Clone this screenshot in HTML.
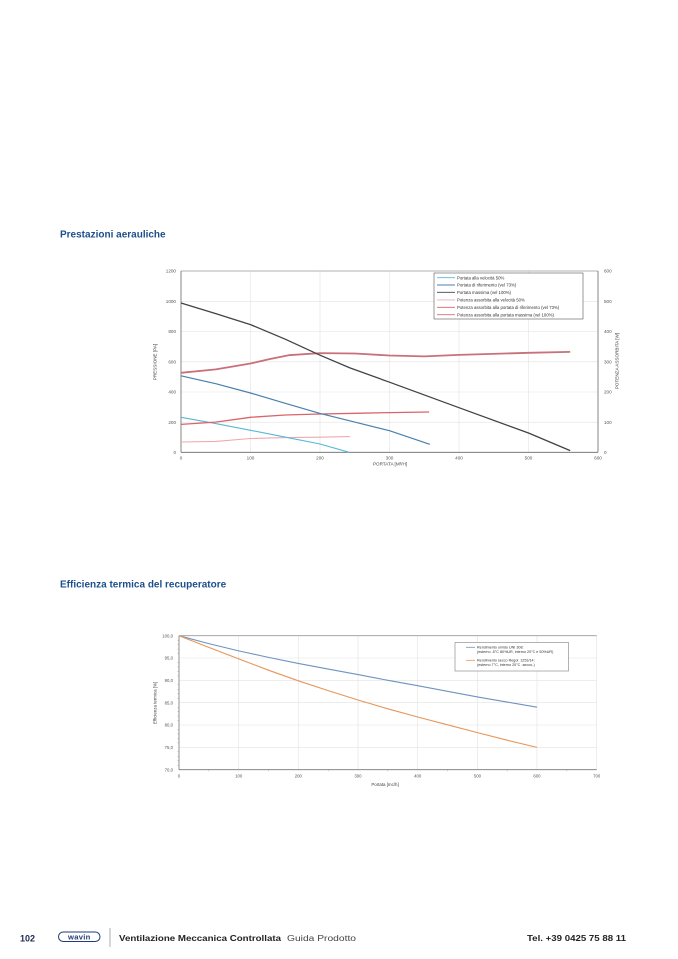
<!DOCTYPE html>
<html>
<head>
<meta charset="utf-8">
<style>
html,body{margin:0;padding:0;background:#fff;}
body{width:678px;height:959px;overflow:hidden;}
svg{display:block;}
text{font-family:"Liberation Sans",sans-serif;}
</style>
</head>
<body>
<svg width="678" height="959" viewBox="0 0 678 959" xmlns="http://www.w3.org/2000/svg">
<rect width="678" height="959" fill="#fff"/>

<!-- Titles -->
<text x="60" y="237.5" font-size="10" font-weight="bold" fill="#1d4f8c">Prestazioni aerauliche</text>
<text x="60" y="587.5" font-size="10" font-weight="bold" fill="#1d4f8c">Efficienza termica del recuperatore</text>

<!-- ============ CHART 1 ============ -->
<g>
  <!-- grid -->
  <g stroke="#e2e2e2" stroke-width="0.6">
    <line x1="250.5" y1="271" x2="250.5" y2="452.3"/>
    <line x1="320" y1="271" x2="320" y2="452.3"/>
    <line x1="389.5" y1="271" x2="389.5" y2="452.3"/>
    <line x1="459" y1="271" x2="459" y2="452.3"/>
    <line x1="528.5" y1="271" x2="528.5" y2="452.3"/>
    <line x1="181" y1="301.3" x2="598" y2="301.3"/>
    <line x1="181" y1="331.5" x2="598" y2="331.5"/>
    <line x1="181" y1="361.8" x2="598" y2="361.8"/>
    <line x1="181" y1="392" x2="598" y2="392"/>
    <line x1="181" y1="422.2" x2="598" y2="422.2"/>
  </g>
  <line x1="181" y1="271" x2="598" y2="271" stroke="#999" stroke-width="0.8"/>
  <line x1="181" y1="271" x2="181" y2="452.3" stroke="#666" stroke-width="0.8"/>
  <line x1="598" y1="271" x2="598" y2="452.3" stroke="#666" stroke-width="0.8"/>
  <line x1="181" y1="452.3" x2="598" y2="452.3" stroke="#666" stroke-width="0.8"/>

  <!-- left tick labels -->
  <g font-size="4.6" fill="#555" text-anchor="end">
    <text x="176" y="272.6">1200</text>
    <text x="176" y="302.9">1000</text>
    <text x="176" y="333.1">800</text>
    <text x="176" y="363.4">600</text>
    <text x="176" y="393.6">400</text>
    <text x="176" y="423.8">200</text>
    <text x="176" y="454">0</text>
  </g>
  <!-- right tick labels -->
  <g font-size="4.6" fill="#555" text-anchor="start">
    <text x="604" y="272.6">600</text>
    <text x="604" y="302.9">500</text>
    <text x="604" y="333.1">400</text>
    <text x="604" y="363.4">300</text>
    <text x="604" y="393.6">200</text>
    <text x="604" y="423.8">100</text>
    <text x="604" y="454">0</text>
  </g>
  <!-- x tick labels -->
  <g font-size="4.6" fill="#555" text-anchor="middle">
    <text x="181" y="459.5">0</text>
    <text x="250.5" y="459.5">100</text>
    <text x="320" y="459.5">200</text>
    <text x="389.5" y="459.5">300</text>
    <text x="459" y="459.5">400</text>
    <text x="528.5" y="459.5">500</text>
    <text x="598" y="459.5">600</text>
  </g>
  <text x="390" y="465.5" font-size="4.6" fill="#444" text-anchor="middle">PORTATA [M³/H]</text>
  <text transform="translate(156.5,362) rotate(-90)" font-size="4.6" fill="#444" text-anchor="middle">PRESSIONE [PA]</text>
  <text transform="translate(618.5,361) rotate(-90)" font-size="4.6" fill="#444" text-anchor="middle">POTENZA ASSORBITA [W]</text>

  <!-- series -->
  <polyline fill="none" stroke="#efaaae" stroke-width="1.1" stroke-linejoin="round"
    points="181,442.0 215.75,441.4 250.5,438.5 285,437.6 320,437.2 349.9,436.6"/>
  <polyline fill="none" stroke="#58b7d6" stroke-width="1.1" stroke-linejoin="round"
    points="181,417.3 215.75,423.6 250.5,430.3 285,437.1 320,444.0 349.2,452.3"/>
  <polyline fill="none" stroke="#d9646a" stroke-width="1.3" stroke-linejoin="round"
    points="181,424.4 215.75,422.1 250.5,417.3 285.25,415.0 320,414.0 354.75,413.3 389.5,412.6 429.1,412.0"/>
  <polyline fill="none" stroke="#4a80ad" stroke-width="1.2" stroke-linejoin="round"
    points="181,375.8 215.75,383.7 250.5,393.0 285.25,403.3 320,413.4 354.75,422.1 389.5,430.7 429.8,444.3"/>
  <polyline fill="none" stroke="#c9707a" stroke-width="1.8" stroke-linejoin="round"
    points="181,372.8 215.75,369.4 250.5,363.5 270,359 288.7,355.2 320,353.1 354.75,353.5 389.5,355.5 424.25,356.4 459,354.9 528.5,352.8 570.2,351.9"/>
  <polyline fill="none" stroke="#3f4448" stroke-width="1.3" stroke-linejoin="round"
    points="181,303.0 215.75,313.6 250.5,324.6 285.25,339.2 320,355.2 349.9,367.9 389.5,382.2 459,407.7 528.5,433.0 570.2,450.6"/>

  <!-- legend -->
  <rect x="434" y="273" width="149" height="46" fill="#fff" stroke="#555" stroke-width="0.6"/>
  <g stroke-width="0.9">
    <line x1="437" y1="277.7" x2="455" y2="277.7" stroke="#58b7d6"/>
    <line x1="437" y1="285" x2="455" y2="285" stroke="#4a80ad"/>
    <line x1="437" y1="292.3" x2="455" y2="292.3" stroke="#3f4448"/>
    <line x1="437" y1="299.9" x2="455" y2="299.9" stroke="#efaaae"/>
    <line x1="437" y1="307.3" x2="455" y2="307.3" stroke="#d9646a"/>
    <line x1="437" y1="314.7" x2="455" y2="314.7" stroke="#c9707a"/>
  </g>
  <g font-size="4.3" fill="#333">
    <text x="457" y="279.3">Portata alla velocità 50%</text>
    <text x="457" y="286.6">Portata di riferimento (vel 73%)</text>
    <text x="457" y="293.9">Portata massima (vel 100%)</text>
    <text x="457" y="301.5">Potenza assorbita alla velocità 50%</text>
    <text x="457" y="308.9">Potenza assorbita alla portata di riferimento (vel 73%)</text>
    <text x="457" y="316.3">Potenza assorbita alla portata massima (vel 100%)</text>
  </g>
</g>

<!-- ============ CHART 2 ============ -->
<g>
  <g stroke="#e2e2e2" stroke-width="0.6">
    <line x1="238.7" y1="635.7" x2="238.7" y2="769.7"/>
    <line x1="298.3" y1="635.7" x2="298.3" y2="769.7"/>
    <line x1="358" y1="635.7" x2="358" y2="769.7"/>
    <line x1="417.7" y1="635.7" x2="417.7" y2="769.7"/>
    <line x1="477.4" y1="635.7" x2="477.4" y2="769.7"/>
    <line x1="537" y1="635.7" x2="537" y2="769.7"/>
    <line x1="596.7" y1="635.7" x2="596.7" y2="769.7"/>
    <line x1="179" y1="658" x2="596.7" y2="658"/>
    <line x1="179" y1="680.3" x2="596.7" y2="680.3"/>
    <line x1="179" y1="702.7" x2="596.7" y2="702.7"/>
    <line x1="179" y1="725" x2="596.7" y2="725"/>
    <line x1="179" y1="747.3" x2="596.7" y2="747.3"/>
  </g>
  <line x1="179" y1="635.7" x2="596.7" y2="635.7" stroke="#999" stroke-width="0.8"/>
  <line x1="179" y1="635.7" x2="179" y2="769.7" stroke="#777" stroke-width="0.8"/>
  <line x1="179" y1="769.7" x2="596.7" y2="769.7" stroke="#777" stroke-width="0.8"/>
  <!-- minor ticks left -->
  <g stroke="#888" stroke-width="0.4" id="mt">
    <line x1="177.5" y1="640.2" x2="179" y2="640.2"/><line x1="177.5" y1="644.6" x2="179" y2="644.6"/>
    <line x1="177.5" y1="649.1" x2="179" y2="649.1"/><line x1="177.5" y1="653.6" x2="179" y2="653.6"/>
    <line x1="177.5" y1="662.5" x2="179" y2="662.5"/><line x1="177.5" y1="666.9" x2="179" y2="666.9"/>
    <line x1="177.5" y1="671.4" x2="179" y2="671.4"/><line x1="177.5" y1="675.9" x2="179" y2="675.9"/>
    <line x1="177.5" y1="684.8" x2="179" y2="684.8"/><line x1="177.5" y1="689.3" x2="179" y2="689.3"/>
    <line x1="177.5" y1="693.7" x2="179" y2="693.7"/><line x1="177.5" y1="698.2" x2="179" y2="698.2"/>
    <line x1="177.5" y1="707.2" x2="179" y2="707.2"/><line x1="177.5" y1="711.6" x2="179" y2="711.6"/>
    <line x1="177.5" y1="716.1" x2="179" y2="716.1"/><line x1="177.5" y1="720.5" x2="179" y2="720.5"/>
    <line x1="177.5" y1="729.5" x2="179" y2="729.5"/><line x1="177.5" y1="733.9" x2="179" y2="733.9"/>
    <line x1="177.5" y1="738.4" x2="179" y2="738.4"/><line x1="177.5" y1="742.9" x2="179" y2="742.9"/>
    <line x1="177.5" y1="751.8" x2="179" y2="751.8"/><line x1="177.5" y1="756.3" x2="179" y2="756.3"/>
    <line x1="177.5" y1="760.7" x2="179" y2="760.7"/><line x1="177.5" y1="765.2" x2="179" y2="765.2"/>
    <line x1="208.8" y1="769.7" x2="208.8" y2="771.2"/><line x1="268.5" y1="769.7" x2="268.5" y2="771.2"/>
    <line x1="328.2" y1="769.7" x2="328.2" y2="771.2"/><line x1="387.8" y1="769.7" x2="387.8" y2="771.2"/>
    <line x1="447.5" y1="769.7" x2="447.5" y2="771.2"/><line x1="507.2" y1="769.7" x2="507.2" y2="771.2"/>
    <line x1="566.8" y1="769.7" x2="566.8" y2="771.2"/>
  </g>
  <g font-size="4.3" fill="#555" text-anchor="end">
    <text x="173" y="637.3">100,0</text>
    <text x="173" y="659.6">95,0</text>
    <text x="173" y="681.9">90,0</text>
    <text x="173" y="704.3">85,0</text>
    <text x="173" y="726.6">80,0</text>
    <text x="173" y="748.9">75,0</text>
    <text x="173" y="771.3">70,0</text>
  </g>
  <g font-size="4.3" fill="#555" text-anchor="middle">
    <text x="179" y="777.6">0</text>
    <text x="238.7" y="777.6">100</text>
    <text x="298.3" y="777.6">200</text>
    <text x="358" y="777.6">300</text>
    <text x="417.7" y="777.6">400</text>
    <text x="477.4" y="777.6">500</text>
    <text x="537" y="777.6">600</text>
    <text x="596.7" y="777.6">700</text>
  </g>
  <text x="385" y="786" font-size="4.4" fill="#444" text-anchor="middle">Portata [mc/h]</text>
  <text transform="translate(156.5,703) rotate(-90)" font-size="4.4" fill="#444" text-anchor="middle">Efficienza termica [%]</text>

  <polyline fill="none" stroke="#6f93bf" stroke-width="1.1" stroke-linejoin="round"
    points="179,635.7 208.8,643.6 238.7,650.9 268.5,657.4 298.3,663.4 328.2,669.1 358,674.6 387.8,680.3 417.7,685.7 447.5,691.3 477.4,696.9 507.2,702.1 537,707.2"/>
  <polyline fill="none" stroke="#e8955a" stroke-width="1.1" stroke-linejoin="round"
    points="179,635.7 208.8,647.4 238.7,658.9 268.5,670.2 298.3,680.8 328.2,690.6 358,700.0 387.8,708.8 417.7,717.0 447.5,724.8 477.4,732.6 507.2,740.2 537,747.4"/>

  <rect x="455" y="642.5" width="113.5" height="28.5" fill="#fff" stroke="#666" stroke-width="0.5"/>
  <line x1="466" y1="647.3" x2="475" y2="647.3" stroke="#6f93bf" stroke-width="0.8"/>
  <line x1="466" y1="660.3" x2="475" y2="660.3" stroke="#e8955a" stroke-width="0.8"/>
  <g font-size="3.7" fill="#333">
    <text x="477" y="648.6">Rendimento umido UNI 308:</text>
    <text x="477" y="653">(esterno -5°C 80%UR, interno 20°C e 50%UR)</text>
    <text x="477" y="661.6">Rendimento secco Regol. 1253/14:</text>
    <text x="477" y="666">(esterno 7°C, interno 20°C -secco-)</text>
  </g>
</g>

<!-- ============ FOOTER ============ -->
<text x="20" y="941.5" font-size="9" font-weight="bold" fill="#1c2b4f">102</text>
<rect x="58.5" y="932" width="41.5" height="9.5" rx="4.75" ry="4.75" fill="none" stroke="#1f3b73" stroke-width="1"/>
<text x="79.3" y="939.6" font-size="7.6" font-weight="bold" fill="#1f3b73" text-anchor="middle" letter-spacing="0.3">wavin</text>
<line x1="110" y1="928" x2="110" y2="947" stroke="#8a8a8a" stroke-width="0.7"/>
<text x="119" y="940.8" font-size="8.6" font-weight="bold" fill="#222" textLength="162" lengthAdjust="spacingAndGlyphs">Ventilazione Meccanica Controllata</text>
<text x="287" y="940.8" font-size="8.6" fill="#444" textLength="69" lengthAdjust="spacingAndGlyphs">Guida Prodotto</text>
<text x="527" y="940.8" font-size="8.6" font-weight="bold" fill="#222" textLength="99" lengthAdjust="spacingAndGlyphs">Tel. +39 0425 75 88 11</text>
</svg>
</body>
</html>
